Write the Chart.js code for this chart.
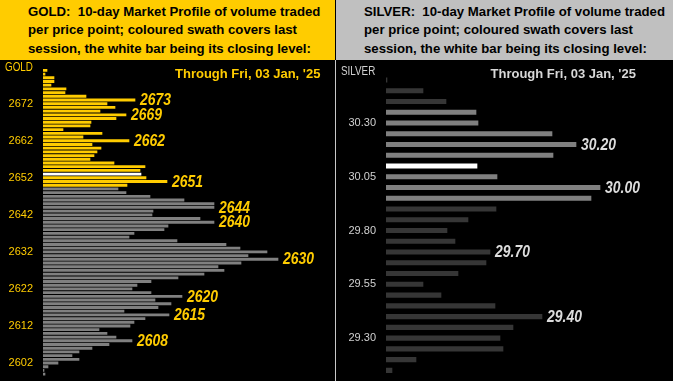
<!DOCTYPE html>
<html><head><meta charset="utf-8">
<script src="https://cdn.jsdelivr.net/npm/chart.js@4.4.1/dist/chart.umd.min.js"></script>
<style>
html,body{margin:0;padding:0;background:#000;width:673px;height:381px;overflow:hidden;}
#wrap{position:relative;width:673px;height:381px;background:#000;}
.hdr{position:absolute;top:0;height:60px;}
.hdr .t{position:absolute;top:3px;font:bold 13.2px "Liberation Sans",Arial,sans-serif;line-height:18.3px;color:#000;white-space:nowrap;}
.lbl{position:absolute;white-space:nowrap;}
.sym{font:12px "Liberation Sans",Arial,sans-serif;line-height:12px;transform:scaleX(0.82);transform-origin:0 0;}
.thr{font:bold 13px "Liberation Sans",Arial,sans-serif;line-height:13px;}
canvas{position:absolute;top:60px;}
#div{position:absolute;left:335px;top:60px;width:1px;height:321px;background:#C8C8C8;}
</style></head>
<body><div id="wrap">
<div class="hdr" style="left:0;width:335px;background:#FFCC00;"><div class="t" style="left:28px;">GOLD:&nbsp; 10-day Market Profile of volume traded<br>per price point; coloured swath covers last<br>session, the white bar being its closing level:</div></div>
<div class="hdr" style="left:336px;width:337px;background:#C0C0C0;"><div class="t" style="left:28px;">SILVER:&nbsp; 10-day Market Profile of volume traded<br>per price point; coloured swath covers last<br>session, the white bar being its closing level:</div></div>
<canvas id="gold" width="335" height="321" style="left:0;"></canvas>
<canvas id="silver" width="337" height="321" style="left:336px;"></canvas>
<div id="div"></div>
<div class="lbl sym" style="left:5px;top:61px;color:#FFCC00;">GOLD</div>
<div class="lbl sym" style="left:341px;top:64.5px;color:#D0D0D0;">SILVER</div>
<div class="lbl thr" style="left:175px;top:66.6px;color:#FFCC00;">Through Fri, 03 Jan, '25</div>
<div class="lbl thr" style="left:490.5px;top:67px;color:#D8D8D8;">Through Fri, 03 Jan, '25</div>
</div>
<script>
// ---------- GOLD ----------
const goldPrices = ['2681','2680','2679','2678','2677','2676','2675','2674','2673','2672','2671','2670','2669','2668','2667','2666','2665','2664','2663','2662','2661','2660','2659','2658','2657','2656','2655','2654','2653','2652','2651','2650','2649','2648','2647','2646','2645','2644','2643','2642','2641','2640','2639','2638','2637','2636','2635','2634','2633','2632','2631','2630','2629','2628','2627','2626','2625','2624','2623','2622','2621','2620','2619','2618','2617','2616','2615','2614','2613','2612','2611','2610','2609','2608','2607','2606','2605','2604','2603','2602','2601','2600','2599'];
const goldVolume = [4,2,11,11,8,23,22,43,92,64,72,57,83,73,48,47,20,59,40,86,49,58,54,51,47,71,102,97,98,103,124,84,75,83,107,141,171,171,110,109,157,171,125,121,91,86,134,183,197,224,205,235,198,175,181,161,135,108,94,89,108,139,112,128,115,81,126,102,91,87,56,64,73,89,66,49,36,29,36,15,5,1,2];
const goldTicks = ['2672','2662','2652','2642','2632','2622','2612','2602'];
const goldPeaks = ['2673','2669','2662','2651','2644','2640','2630','2620','2615','2608'];
const goldSwath = [2650, 2681];
const goldClose = 2653;

// ---------- SILVER ----------
const silverPrices = ['30.50','30.45','30.40','30.35','30.30','30.25','30.20','30.15','30.10','30.05','30.00','29.95','29.90','29.85','29.80','29.75','29.70','29.65','29.60','29.55','29.50','29.45','29.40','29.35','29.30','29.25','29.20','29.15'];
const silverVolume = [1,37,60,90,92,166,190,167,91,111,214,205,110,82,61,69,104,100,72,37,55,109,156,127,114,117,30,6];
const silverTicks = ['30.30','30.05','29.80','29.55','29.30'];
const silverPeaks = ['30.20','30.00','29.70','29.40'];
const silverSwath = [29.95, 30.35];
const silverClose = 30.10;

const peakLabels = {
  id: 'peakLabels',
  afterDatasetsDraw(chart, args, opts) {
    const {ctx, scales: {x, y}} = chart;
    const data = chart.data.datasets[0].data;
    const labels = chart.data.labels;
    const sx = 0.82;
    ctx.save();
    ctx.font = opts.font;
    ctx.fillStyle = opts.color;
    ctx.textBaseline = 'middle';
    ctx.textAlign = 'left';
    opts.peaks.forEach(p => {
      const i = labels.indexOf(p);
      if (i < 0) return;
      const px = x.getPixelForValue(data[i]) + 5;
      const py = y.getPixelForValue(i) + 0.5;
      ctx.save();
      ctx.translate(px, py);
      ctx.scale(sx, 1);
      ctx.fillText(p, 0, 0);
      ctx.restore();
    });
    ctx.restore();
  }
};

function makeChart(id, prices, vols, ticks, peaks, swath, close, cols, tickColor, peakColor, axisW, xMax, pad, thick) {
  const colors = prices.map(p => {
    const v = parseFloat(p);
    if (Math.abs(v - close) < 1e-9) return cols[0];
    if (v >= swath[0] - 1e-9 && v <= swath[1] + 1e-9) return cols[1];
    return cols[2];
  });
  return new Chart(document.getElementById(id), {
    type: 'bar',
    data: { labels: prices, datasets: [{ data: vols, backgroundColor: colors, borderWidth: 0, barThickness: thick }] },
    options: {
      indexAxis: 'y', responsive: false, animation: false,
      layout: { padding: pad },
      plugins: { legend: { display: false }, tooltip: { enabled: false },
        peakLabels: { peaks: peaks, color: peakColor, font: 'italic bold 17px "Liberation Sans",Arial,sans-serif' } },
      scales: {
        x: { display: false, min: 0, max: xMax },
        y: {
          afterFit(s) { s.width = axisW; s.paddingTop = 0; s.paddingBottom = 0; },
          grid: { display: false, drawTicks: false },
          border: { display: false },
          ticks: {
            autoSkip: false, padding: 10, color: tickColor,
            font: { family: '"Liberation Sans",Arial,sans-serif', size: 11 },
            callback(v) { const l = this.getLabelForValue(v); return ticks.includes(l) ? l : ''; }
          }
        }
      }
    },
    plugins: [peakLabels]
  });
}

makeChart('gold', goldPrices, goldVolume, goldTicks, goldPeaks, goldSwath, goldClose,
  ['#FFFFFF', '#FFCC00', '#808080'], '#FFCC00', '#FFCC00', 43, 292,
  { top: 8.5, bottom: 5, left: 0, right: 0 }, 2.2);
makeChart('silver', silverPrices, silverVolume, silverTicks, silverPeaks, silverSwath, silverClose,
  ['#FFFFFF', '#808080', '#363636'], '#D0D0D0', '#DCDCDC', 50, 287,
  { top: 14.6, bottom: 5.3, left: 0, right: 0 }, 4.5);
</script>
</body></html>
